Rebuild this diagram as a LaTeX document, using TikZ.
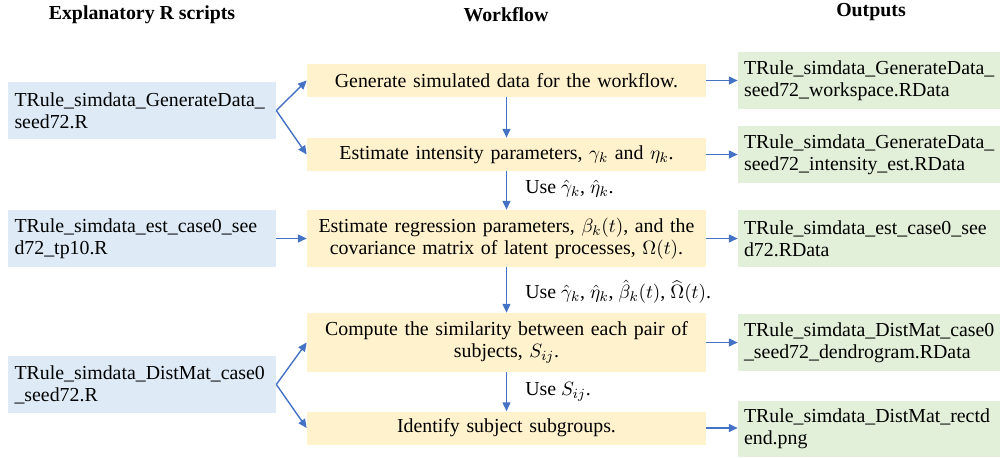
\documentclass[tikz,border=0pt]{standalone}
\usepackage{fontspec}
\setmainfont{Liberation Serif}
\usetikzlibrary{arrows.meta}
\definecolor{scriptblue}{HTML}{DEEBF7}
\definecolor{flowyellow}{HTML}{FFF2CC}
\definecolor{outgreen}{HTML}{E2F0D9}
\definecolor{arrowblue}{HTML}{4472C4}

\begin{document}
\begin{tikzpicture}[x=0.02cm,y=-0.02cm,
  font=\fontsize{11.3}{12.4}\selectfont,
  script/.style={fill=scriptblue,minimum width=5.36cm,minimum height=1.14cm,text width=5.1cm,inner xsep=0.13cm,align=left},
  flow/.style={fill=flowyellow,minimum width=7.98cm,minimum height=0.66cm,text width=7.7cm,inner ysep=2pt,align=center},
  output/.style={fill=outgreen,minimum width=5.24cm,minimum height=1.14cm,text width=5.0cm,inner xsep=0.12cm,align=left},
  head/.style={font=\fontsize{11.3}{12.4}\selectfont\bfseries},
  link/.style={arrowblue,line width=0.8pt,-{Triangle[length=5pt,width=4.5pt]}},
  uselabel/.style={anchor=west,inner sep=0pt}]

\useasboundingbox (0,0) rectangle (1000,457);

\node[head] (headScripts) at (142,15) {Explanatory R scripts};
\node[head] (headFlow) at (506,15) {Workflow};
\node[head] (headOut) at (871,12) {Outputs};

\node[script] (scriptGen) at (142,110.5) {TRule\_simdata\_GenerateData\_\\seed72.R};
\node[script] (scriptEst) at (142,238.5) {TRule\_simdata\_est\_case0\_see\\d72\_tp10.R};
\node[script] (scriptDist) at (142,384.5) {TRule\_simdata\_DistMat\_case0\\\_seed72.R};

\node[flow] (flowGen) at (506.5,80.5) {Generate simulated data for the workflow.};
\node[flow] (flowInt) at (506.5,154.5) {Estimate intensity parameters, $\gamma_k$ and $\eta_k$.};
\node[flow,minimum height=1.14cm] (flowReg) at (506.5,238.5) {Estimate regression parameters, $\beta_k(t)$, and the\\covariance matrix of latent processes, $\Omega(t)$.};
\node[flow,minimum height=1.18cm] (flowSim) at (506.5,342.5) {Compute the similarity between each pair of\\subjects, $S_{ij}$.};
\node[flow] (flowSub) at (506.5,428) {Identify subject subgroups.};

\node[output] (outGen) at (869,80.5) {TRule\_simdata\_GenerateData\_\\seed72\_workspace.RData};
\node[output] (outInt) at (869,154.5) {TRule\_simdata\_GenerateData\_\\seed72\_intensity\_est.RData};
\node[output] (outReg) at (869,238.5) {TRule\_simdata\_est\_case0\_see\\d72.RData};
\node[output] (outSim) at (869,342.5) {TRule\_simdata\_DistMat\_case0\\\_seed72\_dendrogram.RData};
\node[output,minimum height=1.12cm] (outSub) at (869,429) {TRule\_simdata\_DistMat\_rectd\\end.png};

\node[uselabel] (useInt) at (525,189) {Use $\hat{\gamma}_k$, $\hat{\eta}_k$.};
\node[uselabel] (useReg) at (525,292) {Use $\hat{\gamma}_k$, $\hat{\eta}_k$, $\hat{\beta}_k(t)$, $\widehat{\Omega}(t)$.};
\node[uselabel] (useSim) at (525,392) {Use $S_{ij}$.};

\draw[link] (scriptGen.east) -- (flowGen.west);
\draw[link] (scriptGen.east) -- (flowInt.west);
\draw[link] (scriptEst.east) -- (flowReg.west);
\draw[link] (scriptDist.east) -- (flowSim.west);
\draw[link] (scriptDist.east) -- (flowSub.west);

\draw[link] (flowGen) -- (flowInt);
\draw[link] (flowInt) -- (flowReg);
\draw[link] (flowReg) -- (flowSim);
\draw[link] (flowSim) -- (flowSub);

\draw[link] (flowGen.east) -- (outGen.west);
\draw[link] (flowInt.east) -- (outInt.west);
\draw[link] (flowReg.east) -- (outReg.west);
\draw[link] (flowSim.east) -- (outSim.west);
\draw[link] (flowSub.east) -- (flowSub.east -| outSub.west);
\end{tikzpicture}
\end{document}
